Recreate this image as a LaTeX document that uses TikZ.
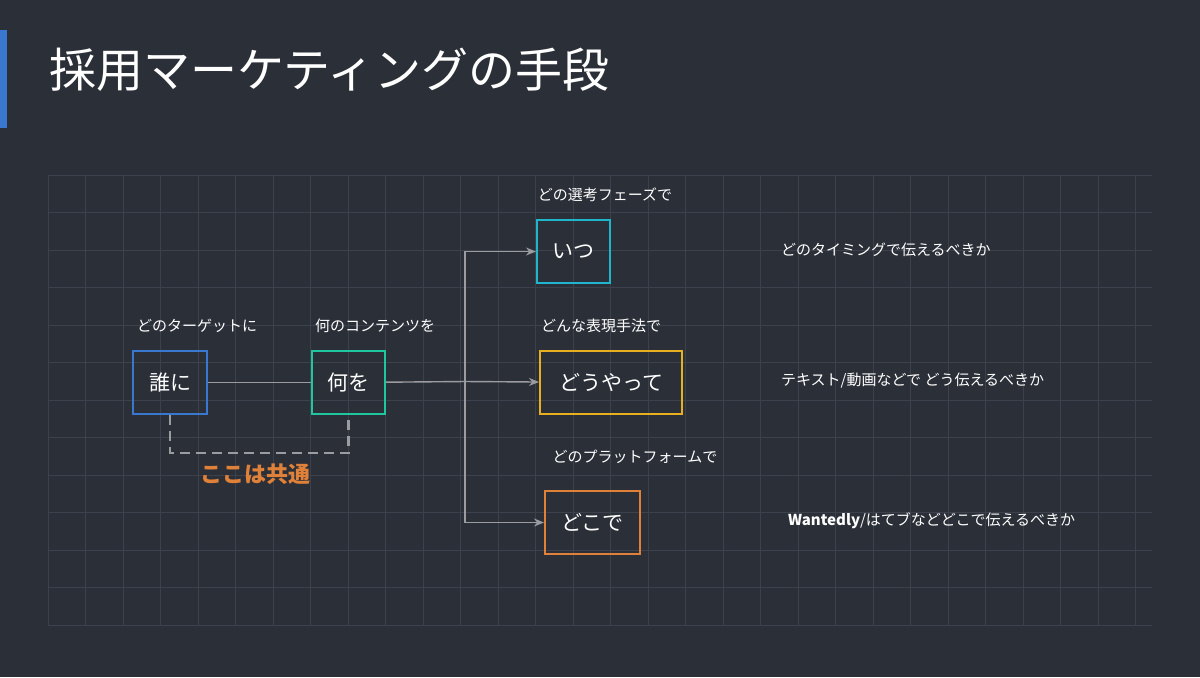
\documentclass[tikz,border=0pt]{standalone}
\usepackage{fontspec}
\setmainfont{Noto Sans CJK JP}
\usetikzlibrary{arrows.meta}
\definecolor{bgc}{HTML}{2B2F38}
\definecolor{gridc}{HTML}{3C414B}
\definecolor{linec}{HTML}{9A9CA0}
\definecolor{bluec}{HTML}{3A78D0}
\definecolor{tealc}{HTML}{1FC6A0}
\definecolor{cyanc}{HTML}{1FB5CC}
\definecolor{yellc}{HTML}{E8B020}
\definecolor{orac}{HTML}{E0813A}
\begin{document}
\begin{tikzpicture}
	[x=0.5pt,y=-0.5pt,
	box/.style={draw,line width=1pt,text=white,font=\fontsize{10.5}{12}\selectfont,anchor=north west,inner sep=0pt,minimum height=31.5pt},
	lbl/.style={text=white,font=\fontsize{7.5}{9}\selectfont},
	note/.style={text=white,font=\fontsize{7.5}{9}\selectfont,anchor=west},
	conn/.style={draw=linec,line width=0.7pt},
	arr/.style={conn,-{Stealth[length=5pt,width=4pt]}}]
	\fill[bgc] (0,0) rectangle (1200,677);
	\fill[bluec] (0,30) rectangle (7,128);
	% grid
	\foreach \x in {48,85.5,...,1160}
	{
		\draw[gridc,line width=0.4pt] (\x,175) -- (\x,625);
	}
	\foreach \y in {175,212.5,...,630}
	{
		\draw[gridc,line width=0.4pt] (48,\y) -- (1152,\y);
	}
	\node[text=white,anchor=west,font=\fontsize{23.5}{26}\selectfont] (title) at (42,70) {採用マーケティングの手段};
	% boxes
	\node[box,draw=bluec,minimum width=37pt] (who) at (132,350) {誰に};
	\node[box,draw=tealc,minimum width=36.5pt] (what) at (311,350) {何を};
	\node[box,draw=cyanc,minimum width=36.5pt] (when) at (536,219) {いつ};
	\node[box,draw=yellc,minimum width=71pt] (how) at (539,350) {どうやって};
	\node[box,draw=orac,minimum width=47.5pt] (where) at (544,490) {どこで};
	% labels
	\node[lbl] (wholbl) at (197,326) {どのターゲットに};
	\node[lbl] (whatlbl) at (375,326) {何のコンテンツを};
	\node[lbl] (whenlbl) at (605,195) {どの選考フェーズで};
	\node[lbl] (howlbl) at (601,326) {どんな表現手法で};
	\node[lbl] (wherelbl) at (635,457) {どのプラットフォームで};
	\node[note] (whennote) at (774,250) {どのタイミングで伝えるべきか};
	\node[note] (hownote) at (774,381) {テキスト/動画などで どう伝えるべきか};
	\node[note] (wherenote) at (781,521) {\textbf{Wantedly}/はてブなどどこで伝えるべきか};
	\node[text=orac,font=\fontsize{11}{13}\selectfont\bfseries] (common) at (255,474) {ここは共通};
	% connectors
	\coordinate (split) at (465,381.5);
	\draw[conn] (who) -- (what);
	\draw[conn] (what) -- (split);
	\draw[arr] (split) |- (when);
	\draw[arr] (split) -- (how);
	\draw[arr] (split) |- (where);
	\draw[draw=linec,line width=1.2pt,dash pattern=on 5pt off 3pt] (who.south) -- ++(0,38) -| (what.south);
\end{tikzpicture}
\end{document}
